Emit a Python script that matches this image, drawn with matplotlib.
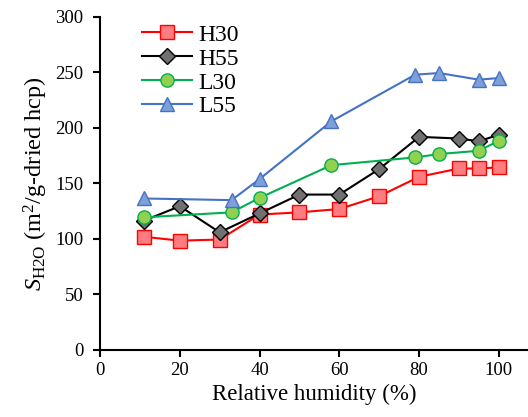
import matplotlib
matplotlib.use('Agg')
import matplotlib.pyplot as plt

plt.rcParams['font.family'] = 'Liberation Serif'
plt.rcParams['mathtext.fontset'] = 'custom'
plt.rcParams['mathtext.rm'] = 'Liberation Serif'
plt.rcParams['mathtext.it'] = 'Liberation Serif:italic'

# relative humidity (%) and water-vapour surface area for each series
rh_h30 = [11, 20, 30, 40, 50, 60, 70, 80, 90, 95, 100]
s_h30 = [102, 98.5, 99.5, 122, 124, 127, 138.5, 156, 163.5, 163.5, 164.5]

rh_h55 = [11, 20, 30, 40, 50, 60, 70, 80, 90, 95, 100]
s_h55 = [116.5, 129.5, 106, 123, 140, 140, 163, 192, 190.5, 188, 194]

rh_l30 = [11, 33, 40, 58, 79, 85, 95, 100]
s_l30 = [119.5, 124, 137, 166.5, 173.5, 176.5, 179.5, 188.5]

rh_l55 = [11, 33, 40, 58, 79, 85, 95, 100]
s_l55 = [136.5, 135, 154, 206, 248, 249.5, 243.5, 245]

fig = plt.figure(figsize=(5.28, 4.17), dpi=100)
ax = fig.add_axes([0.1894, 0.1607, 0.8106, 0.7986])

ax.plot(rh_h30, s_h30, color='#FF0000', lw=1.5, marker='s', ms=9.5,
        mfc='#FF7C80', mec='#FF0000', mew=1, label='H30')
ax.plot(rh_h55, s_h55, color='black', lw=1.5, marker='D', ms=8,
        mfc='#707070', mec='black', mew=1, label='H55')
ax.plot(rh_l30, s_l30, color='#00B050', lw=1.5, marker='o', ms=9.5,
        mfc='#92D050', mec='#00B050', mew=1, label='L30')
ax.plot(rh_l55, s_l55, color='#4472C4', lw=1.5, marker='^', ms=10.5,
        mfc='#7F9FD8', mec='#4472C4', mew=1, label='L55')

ax.set_xlim(0, 107.3)
ax.set_ylim(0, 300)
ax.set_xticks([0, 20, 40, 60, 80, 100])
ax.set_yticks(range(0, 301, 50))
ax.spines['top'].set_visible(False)
ax.spines['right'].set_visible(False)
ax.spines['left'].set_linewidth(1.5)
ax.spines['bottom'].set_linewidth(1.5)
ax.tick_params(direction='out', length=5, width=1.5, labelsize=13.5)
ax.tick_params(axis='y', pad=7)
ax.tick_params(axis='x', pad=4)

ax.set_xlabel('Relative humidity (%)', fontsize=16.5, labelpad=3)
ax.set_ylabel(r'$S_{\mathrm{H2O}}$ (m$^2$/g-dried hcp)', fontsize=17.5,
              labelpad=4)

ax.legend(loc='upper left', bbox_to_anchor=(0.054, 1.035), frameon=False,
          fontsize=17, handlelength=2.1, handletextpad=0.3, labelspacing=0.1,
          borderpad=0.3)

fig.savefig('out.png', dpi=100)
